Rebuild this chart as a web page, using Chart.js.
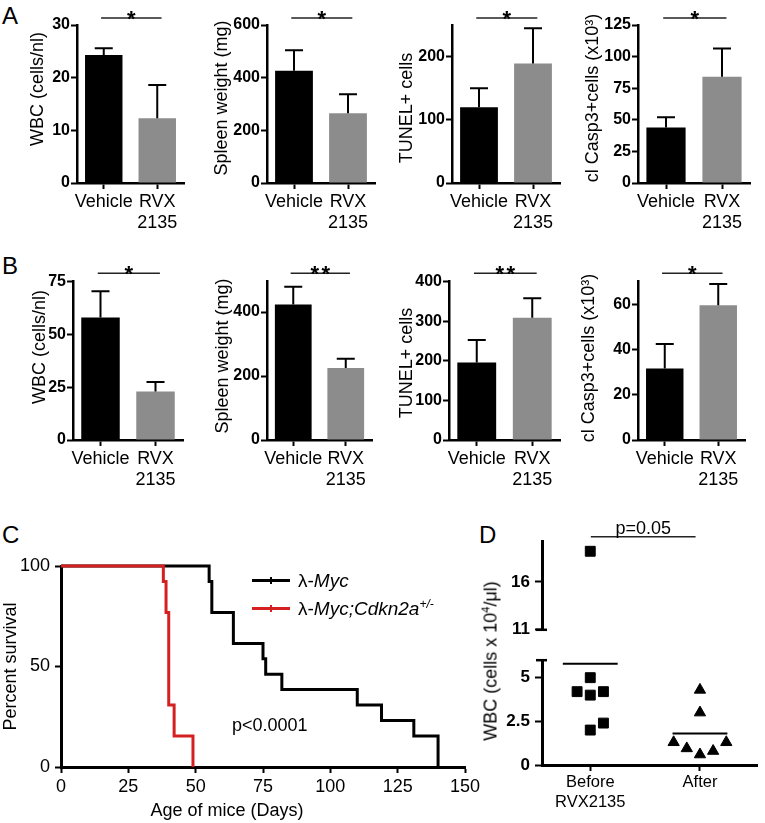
<!DOCTYPE html>
<html>
<head>
<meta charset="utf-8">
<script src="https://cdn.jsdelivr.net/npm/chart.js@4.4.1/dist/chart.umd.min.js"></script>
<style>
  html, body { margin: 0; padding: 0; background: #fff; }
  body { width: 765px; height: 823px; position: relative; overflow: hidden;
         font-family: "Liberation Sans", Arial, sans-serif; color: #000; }
  canvas { position: absolute; }
  .t { position: absolute; white-space: nowrap; line-height: 1; }
  .yt { position: absolute; width: 0; height: 0; }
  .yt span { position: absolute; left: 0; top: 0; white-space: nowrap; line-height: 1; font-size: 18px;
             transform: translate(-50%, -50%) rotate(-90deg); }
  .letter { font-size: 24px; line-height: 24px; }
  .sw { position: absolute; height: 3px; width: 38px; }
  .sw i { position: absolute; left: 18px; top: -2px; width: 2px; height: 7px; background: inherit; }
</style>
</head>
<body>
<div class="t letter" style="left:2px;top:4px">A</div>
<div class="t letter" style="left:2px;top:254px">B</div>
<div class="t letter" style="left:2px;top:523px">C</div>
<div class="t letter" style="left:479px;top:523px">D</div>

<canvas id="a1" width="190" height="240" style="left:0;top:0"></canvas>
<canvas id="a2" width="190" height="240" style="left:190px;top:0"></canvas>
<canvas id="a3" width="190" height="240" style="left:380px;top:0"></canvas>
<canvas id="a4" width="195" height="240" style="left:570px;top:0"></canvas>
<canvas id="b1" width="190" height="260" style="left:0;top:240px"></canvas>
<canvas id="b2" width="190" height="260" style="left:190px;top:240px"></canvas>
<canvas id="b3" width="190" height="260" style="left:380px;top:240px"></canvas>
<canvas id="b4" width="195" height="260" style="left:570px;top:240px"></canvas>

<!-- y axis titles of the bar panels (div = centre point) -->
<div class="yt" style="left:37px;top:89px"><span>WBC (cells/nl)</span></div>
<div class="yt" style="left:221px;top:98px"><span>Spleen weight (mg)</span></div>
<div class="yt" style="left:406px;top:108px"><span>TUNEL+ cells</span></div>
<div class="yt" style="left:592px;top:98px"><span>cl Casp3+cells (x10³)</span></div>
<div class="yt" style="left:39px;top:347px"><span>WBC (cells/nl)</span></div>
<div class="yt" style="left:222px;top:356px"><span>Spleen weight (mg)</span></div>
<div class="yt" style="left:406px;top:363px"><span>TUNEL+ cells</span></div>
<div class="yt" style="left:588px;top:358px"><span>cl Casp3+cells (x10³)</span></div>

<canvas id="c" width="490" height="313" style="left:0;top:510px"></canvas>
<canvas id="dTop" width="275" height="145" style="left:490px;top:500px"></canvas>
<canvas id="dBot" width="275" height="178" style="left:490px;top:645px"></canvas>

<!-- panel C legend / annotation -->
<div class="sw" style="left:252px;top:579px;background:#000"><i></i></div>
<div class="t" style="left:298px;top:580px;font-size:19px;transform:translateY(-50%)">λ-<i>Myc</i></div>
<div class="sw" style="left:252px;top:607px;background:#d42020"><i></i></div>
<div class="t" style="left:298px;top:608px;font-size:19px;transform:translateY(-50%)">λ-<i>Myc;Cdkn2a<sup style="font-size:12px">+/-</sup></i></div>
<div class="t" style="left:232px;top:725px;font-size:18px;transform:translateY(-50%)">p&lt;0.0001</div>
<div class="t" style="left:227px;top:810px;font-size:18px;transform:translate(-50%,-50%)">Age of mice (Days)</div>
<div class="yt" style="left:490px;top:661px"><span>WBC (cells x 10<sup style="font-size:11px">4</sup>/μl)</span></div>

<script>
// ---- data ----
const groups = ['Vehicle', ['RVX', '2135']];
const barColors = ['#000000', '#8c8c8c'];

// panel A
const aWbc = [24.3, 12.3],   aWbcErr = [1.3, 6.3];
const aSpleen = [426, 265],  aSpleenErr = [78, 72];
const aTunel = [120, 189],   aTunelErr = [30, 56];
const aCasp = [44, 84],      aCaspErr = [8, 22.5];
// panel B
const bWbc = [58, 23],       bWbcErr = [12.5, 4.5];
const bSpleen = [424, 225],  bSpleenErr = [55, 29];
const bTunel = [196, 309],   bTunelErr = [57, 49];
const bCasp = [31.6, 59.6],  bCaspErr = [10.8, 9.4];

// panel C (Kaplan-Meier, days / % survival)
const mycDays = [0, 55, 56, 64, 75, 76, 82, 110, 119, 131, 140];
const mycSurv = [100, 92.3, 76.9, 61.5, 53.8, 46.2, 38.5, 30.8, 23.1, 15.4, 0];
const cdkDays = [0, 38, 39, 40, 42, 49];
const cdkSurv = [100, 92.3, 76.9, 30.8, 15.4, 0];

// panel D (WBC x10^4/ul)
const dCats = [['Before', 'RVX2135'], 'After'];
const beforeWbc = [19.2, 5.0, 4.2, 4.0, 4.2, 2.4, 2.0];
const afterWbc = [4.3, 3.0, 1.3, 0.95, 0.6, 0.8, 1.3];
const dMeans = [5.8, 1.8];
// horizontal spread of dots (slot index, not values)
const beforeSlot = [0, 0, -1, 0, 1, 1, 0];
const afterSlot = [0, 0, -2, -1, 0, 1, 2];

// ---- plugins ----
const errorBars = {
  id: 'errorBars',
  afterDatasetsDraw(chart, args, o) {
    if (!o.errors) return;
    const ctx = chart.ctx, y = chart.scales.y;
    const vals = chart.data.datasets[0].data;
    ctx.save();
    ctx.strokeStyle = '#000';
    ctx.lineWidth = 2;
    chart.getDatasetMeta(0).data.forEach((bar, i) => {
      const top = y.getPixelForValue(vals[i] + o.errors[i]);
      ctx.beginPath();
      ctx.moveTo(bar.x, bar.y); ctx.lineTo(bar.x, top);
      ctx.moveTo(bar.x - 9, top); ctx.lineTo(bar.x + 9, top);
      ctx.stroke();
    });
    ctx.restore();
  }
};

const sigBar = {
  id: 'sigBar',
  afterDraw(chart, args, o) {
    if (!o.stars && !o.text) return;
    const ctx = chart.ctx, x = chart.scales.x;
    const x1 = x.getPixelForValue(o.from), x2 = x.getPixelForValue(o.to);
    const yy = chart.chartArea.top - o.gap;
    ctx.save();
    ctx.strokeStyle = '#222';
    ctx.lineWidth = 1.5;
    ctx.beginPath(); ctx.moveTo(x1, yy); ctx.lineTo(x2, yy); ctx.stroke();
    ctx.fillStyle = '#000';
    ctx.textAlign = 'center';
    ctx.textBaseline = 'alphabetic';
    const cx = (x1 + x2) / 2;
    if (o.stars) {
      ctx.font = 'bold 22px "Liberation Sans", Arial, sans-serif';
      for (let i = 0; i < o.stars; i++) {
        ctx.fillText('*', cx + (i - (o.stars - 1) / 2) * 11, yy + 7.5);
      }
    } else {
      ctx.font = '18px "Liberation Sans", Arial, sans-serif';
      ctx.fillText(o.text, cx, yy - 3);
    }
    ctx.restore();
  }
};

const axisBreak = {
  id: 'axisBreak',
  afterDraw(chart, args, o) {
    if (!o.edge) return;
    const ctx = chart.ctx, a = chart.chartArea;
    const yy = o.edge === 'top' ? a.top : a.bottom;
    ctx.save();
    ctx.strokeStyle = '#000';
    ctx.lineWidth = 2.5;
    ctx.beginPath(); ctx.moveTo(a.left - 6, yy); ctx.lineTo(a.left + 5, yy); ctx.stroke();
    ctx.restore();
  }
};

Chart.register(errorBars, sigBar, axisBreak);
Chart.defaults.font.family = '"Liberation Sans", Arial, sans-serif';
Chart.defaults.color = '#000';

const noUi = { legend: { display: false }, tooltip: { enabled: false } };
const axisGrid = (len) => ({ drawOnChartArea: false, tickLength: len, tickWidth: 2, tickColor: '#000' });
const axisBorder = { color: '#000', width: 2.5 };

function barPanel(id, vals, errs, o) {
  new Chart(document.getElementById(id), {
    type: 'bar',
    data: { labels: groups, datasets: [{ data: vals, backgroundColor: barColors, borderWidth: 0,
                                          barPercentage: 0.7, categoryPercentage: 1 }] },
    options: {
      responsive: false, animation: false, events: [],
      layout: { padding: { left: 0, top: o.top, right: o.right, bottom: 0 } },
      plugins: { ...noUi, errorBars: { errors: errs },
                 sigBar: { stars: o.stars, from: -0.05, to: 1.08, gap: o.gap } },
      scales: {
        x: {
          offset: true,
          grid: { ...axisGrid(6), offset: false },
          border: axisBorder,
          ticks: { font: { size: 18 }, padding: 2, maxRotation: 0, autoSkip: false },
          afterFit: s => { s.height = o.h - o.bottom; }
        },
        y: {
          min: 0, max: o.max,
          afterBuildTicks: s => { s.ticks = o.ticks.map(v => ({ value: v })); },
          grid: axisGrid(6),
          border: axisBorder,
          ticks: { font: { size: 16, weight: 'bold' }, padding: 1, callback: v => String(v) },
          afterFit: s => { s.width = o.left; }
        }
      }
    }
  });
}

// A row: canvas height 240, chart area top 25, bottom 183
barPanel('a1', aWbc, aWbcErr, { h: 240, top: 25, bottom: 183, left: 77, right: 6, max: 30, ticks: [0, 10, 20, 30], stars: 1, gap: 7 });
barPanel('a2', aSpleen, aSpleenErr, { h: 240, top: 25, bottom: 183, left: 77, right: 5, max: 600, ticks: [0, 200, 400, 600], stars: 1, gap: 7 });
barPanel('a3', aTunel, aTunelErr, { h: 240, top: 25, bottom: 183, left: 72, right: 10, max: 250, ticks: [0, 100, 200], stars: 1, gap: 7 });
barPanel('a4', aCasp, aCaspErr, { h: 240, top: 25, bottom: 183, left: 68, right: 15, max: 125, ticks: [0, 25, 50, 75, 100, 125], stars: 1, gap: 7 });

// B row: canvas height 260, chart area top 41.7, bottom 200
barPanel('b1', bWbc, bWbcErr, { h: 260, top: 41.7, bottom: 200, left: 73, right: 7, max: 75, ticks: [0, 25, 50, 75], stars: 1, gap: 8.4 });
barPanel('b2', bSpleen, bSpleenErr, { h: 260, top: 41.7, bottom: 200, left: 77, right: 8, max: 495, ticks: [0, 200, 400], stars: 2, gap: 8.4 });
barPanel('b3', bTunel, bTunelErr, { h: 260, top: 41.7, bottom: 200, left: 69, right: 10, max: 400, ticks: [0, 100, 200, 300, 400], stars: 2, gap: 8.4 });
barPanel('b4', bCasp, bCaspErr, { h: 260, top: 41.7, bottom: 200, left: 68, right: 20, max: 70, ticks: [0, 20, 40, 60], stars: 1, gap: 8.4 });

// ---- panel C ----
new Chart(document.getElementById('c'), {
  type: 'line',
  data: { datasets: [
    { data: cdkDays.map((d, i) => ({ x: d, y: cdkSurv[i] })), borderColor: '#d42020', borderWidth: 3,
      stepped: true, pointRadius: 0, clip: false },
    { data: mycDays.map((d, i) => ({ x: d, y: mycSurv[i] })), borderColor: '#000', borderWidth: 3,
      stepped: true, pointRadius: 0, clip: false }
  ]},
  options: {
    responsive: false, animation: false, events: [],
    layout: { padding: { left: 0, top: 56, right: 25, bottom: 0 } },
    plugins: noUi,
    scales: {
      x: { type: 'linear', min: 0, max: 150,
           afterBuildTicks: s => { s.ticks = [0, 25, 50, 75, 100, 125, 150].map(v => ({ value: v })); },
           grid: axisGrid(6), border: { color: '#000', width: 3 },
           ticks: { font: { size: 18 }, padding: 3, maxRotation: 0, callback: v => String(v) },
           afterFit: s => { s.height = 56; } },
      y: { min: 0, max: 100,
           afterBuildTicks: s => { s.ticks = [0, 50, 100].map(v => ({ value: v })); },
           grid: axisGrid(6), border: { color: '#000', width: 3 },
           ticks: { font: { size: 18 }, padding: 5, callback: v => String(v) },
           title: { display: true, text: 'Percent survival', font: { size: 18 }, padding: { top: 0, bottom: 0 } },
           afterFit: s => { s.width = 61; } }
    }
  }
});

// ---- panel D (broken y axis: two stacked charts) ----
const dMin = 0.56, dMax = 2.52, slotW = 0.12, meanHalf = 0.25;
const beforePts = beforeWbc.map((v, i) => ({ x: 1 + beforeSlot[i] * slotW, y: v }));
const afterPts = afterWbc.map((v, i) => ({ x: 2 + afterSlot[i] * slotW, y: v }));
const meanLine = (g) => ({ type: 'line', showLine: true, borderColor: '#000', borderWidth: 2, pointRadius: 0,
  data: [{ x: g + 1 - meanHalf, y: dMeans[g] }, { x: g + 1 + meanHalf, y: dMeans[g] }] });
const dots = (pts, style, r) => ({ data: pts, pointStyle: style, pointRadius: r, pointBackgroundColor: '#000',
  pointBorderColor: '#000', pointBorderWidth: 1 });
const dY = (min, max, ticks) => ({
  min, max,
  afterBuildTicks: s => { s.ticks = ticks.map(v => ({ value: v })); },
  grid: axisGrid(7), border: { color: '#000', width: 3 },
  ticks: { font: { size: 17, weight: 'bold' }, padding: 5, callback: v => String(v) },
  afterFit: s => { s.width = 52; }
});

new Chart(document.getElementById('dTop'), {
  type: 'scatter',
  data: { datasets: [
    dots(beforePts.filter(p => p.y >= 11), 'rect', 7),
    dots(afterPts.filter(p => p.y >= 11), 'triangle', 6.5)
  ]},
  options: {
    responsive: false, animation: false, events: [],
    layout: { padding: { left: 0, top: 41.7, right: 5, bottom: 11 } },
    plugins: { ...noUi, sigBar: { text: 'p=0.05', from: 1.005, to: 1.96, gap: 5 }, axisBreak: { edge: 'bottom' } },
    scales: {
      x: { type: 'linear', min: dMin, max: dMax, display: false },
      y: dY(11, 20.2, [11, 16])
    }
  }
});

new Chart(document.getElementById('dBot'), {
  type: 'scatter',
  data: { datasets: [
    dots(beforePts.filter(p => p.y < 11), 'rect', 7),
    dots(afterPts.filter(p => p.y < 11), 'triangle', 6.5),
    meanLine(0), meanLine(1)
  ]},
  options: {
    responsive: false, animation: false, events: [],
    layout: { padding: { left: 0, top: 7.7, right: 5, bottom: 0 } },
    plugins: { ...noUi, axisBreak: { edge: 'top' } },
    scales: {
      x: { type: 'linear', min: dMin, max: dMax,
           afterBuildTicks: s => { s.ticks = [1, 2].map(v => ({ value: v })); },
           grid: axisGrid(6), border: { color: '#000', width: 3 },
           ticks: { font: { size: 16.5 }, padding: 2, maxRotation: 0, callback: v => dCats[v - 1] },
           afterFit: s => { s.height = 58; } },
      y: dY(0, 6, [0, 2.5, 5])
    }
  }
});
</script>
</body>
</html>
